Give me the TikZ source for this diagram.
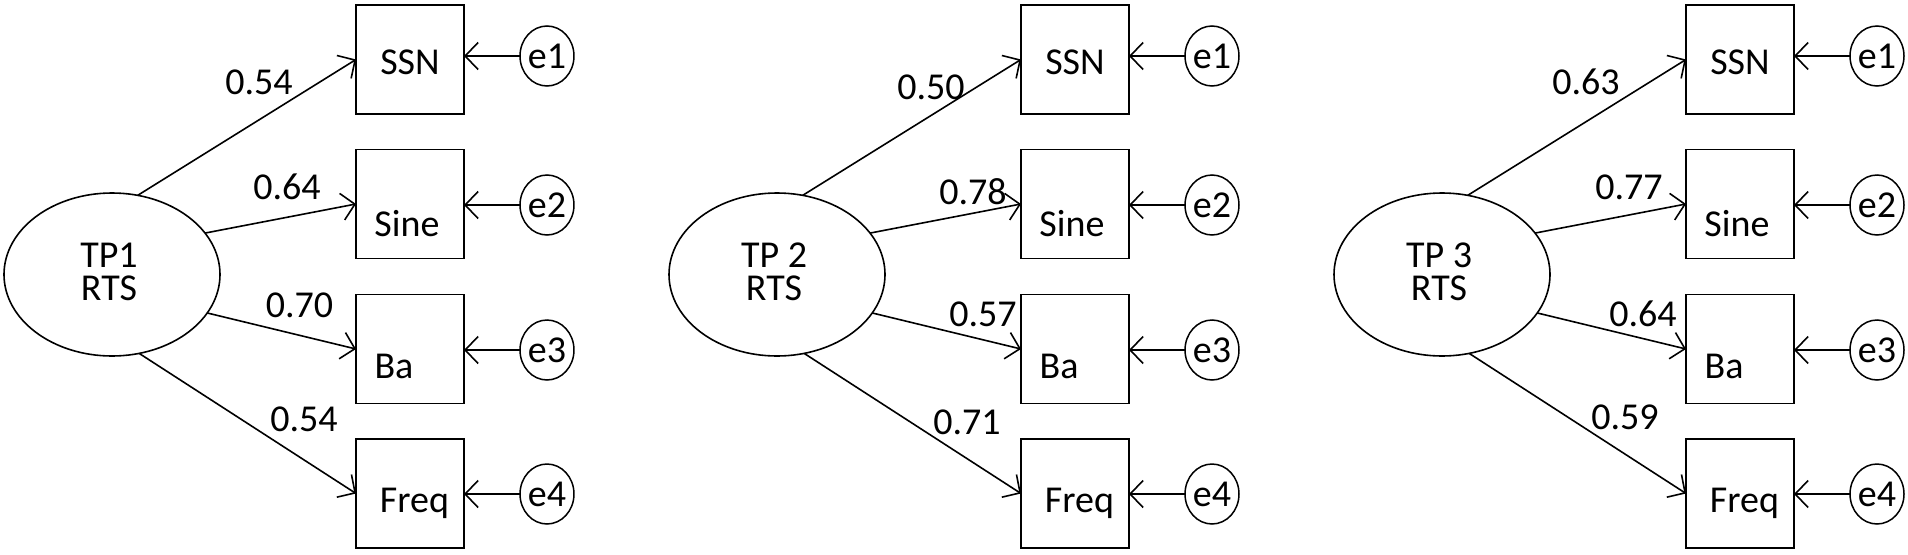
\documentclass[tikz,border=0pt]{standalone}
\usepackage{fontspec}
\setmainfont{Carlito}
\usetikzlibrary{shapes.geometric,arrows.meta}
\newcommand\smpanel[3]{%
\begin{scope}[xshift=#2pt]
  \node[lat] (#1L) at (112,274.5) {};
  \node[ltxt] (#1T) at (109,272) {#3\\RTS};
  \foreach \i/\yy/\nm/\tx/\by/\ey in {1/59.5/SSN/410/74/56, 2/204/Sine/407/236/205, 3/349/Ba/394/378/350, 4/493.5/Freq/414.5/512/494} {
    \node[obs] (#1B\i) at (410,\yy) {};
    \node[txt] (#1N\i) at (\tx,\by) {\nm};
    \node[err] (#1E\i) at (547,\ey) {e\i};
    \draw[conn] (#1E\i) -- (#1B\i.east |- #1E\i.center);
  }
  \draw[conn] (#1L.72) -- (#1B1.west);
  \draw[conn] (#1L.24) -- (#1B2.west);
  \draw[conn] (#1L.-22) -- (#1B3.west);
  \draw[conn] (#1L.-71) -- (#1B4.west);
\end{scope}}
\begin{document}
\begin{tikzpicture}[x=1pt,y=-1pt,
  lat/.style={ellipse,draw,line width=1.6pt,minimum width=216pt,minimum height=163pt,inner sep=0pt,outer sep=0pt},
  obs/.style={rectangle,draw,line width=1.8pt,minimum width=108pt,minimum height=109pt,inner sep=0pt,outer sep=0pt},
  err/.style={ellipse,draw,line width=1.5pt,minimum width=52pt,minimum height=60pt,inner sep=0pt,outer sep=0pt,font=\fontsize{38}{40}\selectfont},
  txt/.style={anchor=base,inner sep=0pt,font=\fontsize{38}{40}\selectfont},
  ltxt/.style={anchor=center,align=center,inner sep=0pt,font=\fontsize{38}{32.5}\selectfont},
  conn/.style={line width=1.6pt,-{Straight Barb[length=13pt,width=27pt]}},
]
\fill[white] (0,0) rectangle (1908,554);
\useasboundingbox (0,0) rectangle (1908,554);
\smpanel{a}{0}{TP1}
\smpanel{b}{665}{TP 2}
\smpanel{c}{1330}{TP 3}
% loadings panel 1
\node[txt] (la1) at (259,94) {0.54};
\node[txt] (la2) at (287,199) {0.64};
\node[txt] (la3) at (299.5,317) {0.70};
\node[txt] (la4) at (304,431) {0.54};
% loadings panel 2
\node[txt] (lb1) at (931,99) {0.50};
\node[txt] (lb2) at (973,204) {0.78};
\node[txt] (lb3) at (983,326) {0.57};
\node[txt] (lb4) at (967,434) {0.71};
% loadings panel 3
\node[txt] (lc1) at (1586,94) {0.63};
\node[txt] (lc2) at (1629,199) {0.77};
\node[txt] (lc3) at (1643,326) {0.64};
\node[txt] (lc4) at (1625,429) {0.59};
\end{tikzpicture}
\end{document}
